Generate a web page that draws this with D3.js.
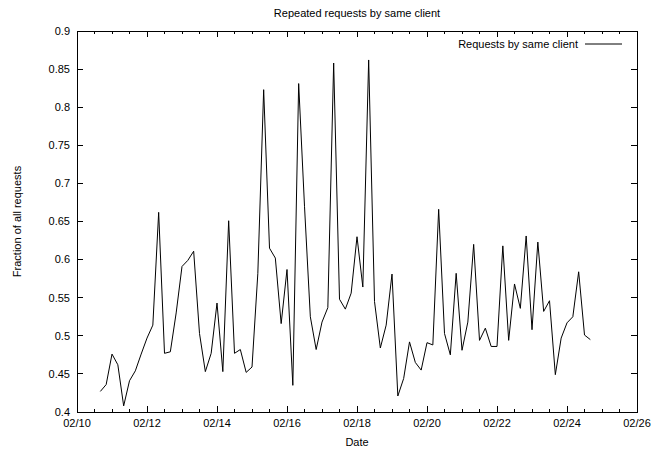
<!DOCTYPE html>
<html>
<head>
<meta charset="utf-8">
<script src="https://cdn.jsdelivr.net/npm/d3@7"></script>
<style>
body { margin: 0; background: #fff; }
text { font-family: "Liberation Sans", Arial, sans-serif; font-size: 11px; fill: #000; }
</style>
</head>
<body>
<div id="chart"></div>
<script>
const width = 663;
const height = 452;
const margin = { top: 31, right: 26, bottom: 40, left: 77 };

// samples every 4 hours, starting 02/10 16:00
const startTime = new Date(2010, 1, 10, 16);
const stepHours = 4;
const values = [
    0.427, 0.436, 0.476, 0.462, 0.408, 0.441, 0.454, 0.476, 0.497, 0.514,
    0.662, 0.477, 0.479, 0.530, 0.591, 0.599, 0.611, 0.503, 0.453, 0.477,
    0.543, 0.453, 0.651, 0.477, 0.482, 0.452, 0.459, 0.582, 0.823, 0.615,
    0.602, 0.516, 0.587, 0.435, 0.831, 0.670, 0.525, 0.482, 0.518, 0.537,
    0.858, 0.548, 0.535, 0.556, 0.630, 0.564, 0.862, 0.545, 0.484, 0.514,
    0.581, 0.421, 0.444, 0.492, 0.465, 0.455, 0.491, 0.488, 0.666, 0.503,
    0.475, 0.582, 0.481, 0.518, 0.620, 0.494, 0.510, 0.486, 0.486, 0.618,
    0.494, 0.568, 0.536, 0.631, 0.508, 0.623, 0.532, 0.546, 0.449, 0.497,
    0.517, 0.525, 0.584, 0.501, 0.495
];
const yTicks = [0.4, 0.45, 0.5, 0.55, 0.6, 0.65, 0.7, 0.75, 0.8, 0.85, 0.9];
const xTickDays = [10, 12, 14, 16, 18, 20, 22, 24, 26];

const data = values.map((v, i) => ({
    date: d3.timeHour.offset(startTime, i * stepHours),
    value: v
}));

const innerW = width - margin.left - margin.right;
const innerH = height - margin.top - margin.bottom;

const svg = d3.select("#chart")
    .append("svg")
    .attr("width", width)
    .attr("height", height);

const g = svg.append("g")
    .attr("transform", `translate(${margin.left},${margin.top})`);

const x = d3.scaleTime()
    .domain([new Date(2010, 1, 10), new Date(2010, 1, 26)])
    .range([0, innerW]);

const y = d3.scaleLinear()
    .domain([0.4, 0.9])
    .range([innerH, 0]);

const majorX = xTickDays.map(d => new Date(2010, 1, d));
const minorX = d3.timeHour.every(12).range(x.domain()[0], x.domain()[1]);

// ticks pointing inward on all four sides
const tickGroup = g.append("g")
    .attr("stroke", "#000")
    .attr("stroke-width", 1)
    .attr("shape-rendering", "crispEdges");

minorX.forEach(d => {
    const len = d.getHours() === 0 && d.getDate() % 2 === 0 ? 6 : 3;
    tickGroup.append("line")
        .attr("x1", x(d)).attr("x2", x(d))
        .attr("y1", innerH).attr("y2", innerH - len);
    tickGroup.append("line")
        .attr("x1", x(d)).attr("x2", x(d))
        .attr("y1", 0).attr("y2", len);
});

yTicks.forEach(t => {
    tickGroup.append("line")
        .attr("x1", 0).attr("x2", 6)
        .attr("y1", y(t)).attr("y2", y(t));
    tickGroup.append("line")
        .attr("x1", innerW).attr("x2", innerW - 6)
        .attr("y1", y(t)).attr("y2", y(t));
});

// tick labels
g.append("g")
    .selectAll("text")
    .data(yTicks)
    .enter().append("text")
    .attr("x", -7)
    .attr("y", d => y(d))
    .attr("dy", "0.35em")
    .attr("text-anchor", "end")
    .text(d => d3.format("")(+d.toFixed(2)));

const fmt = d3.timeFormat("%m/%d");
g.append("g")
    .selectAll("text")
    .data(majorX)
    .enter().append("text")
    .attr("x", d => x(d))
    .attr("y", innerH + 15)
    .attr("text-anchor", "middle")
    .text(d => fmt(d));

// data line
const line = d3.line()
    .x(d => x(d.date))
    .y(d => y(d.value));

g.append("path")
    .datum(data)
    .attr("fill", "none")
    .attr("stroke", "#000")
    .attr("stroke-width", 1)
    .attr("d", line);

// frame
g.append("rect")
    .attr("x", 0).attr("y", 0)
    .attr("width", innerW).attr("height", innerH)
    .attr("fill", "none")
    .attr("stroke", "#000")
    .attr("stroke-width", 1)
    .attr("shape-rendering", "crispEdges");

// legend
g.append("text")
    .attr("x", innerW - 59)
    .attr("y", 13)
    .attr("dy", "0.35em")
    .attr("text-anchor", "end")
    .text("Requests by same client");

g.append("line")
    .attr("x1", innerW - 52).attr("x2", innerW - 15)
    .attr("y1", 13).attr("y2", 13)
    .attr("stroke", "#000")
    .attr("stroke-width", 1);

// titles
svg.append("text")
    .attr("x", margin.left + innerW / 2)
    .attr("y", 17)
    .attr("text-anchor", "middle")
    .text("Repeated requests by same client");

svg.append("text")
    .attr("x", margin.left + innerW / 2)
    .attr("y", 446)
    .attr("text-anchor", "middle")
    .text("Date");

svg.append("text")
    .attr("transform", `translate(21,${margin.top + innerH / 2}) rotate(-90)`)
    .attr("text-anchor", "middle")
    .text("Fraction of all requests");
</script>
</body>
</html>
